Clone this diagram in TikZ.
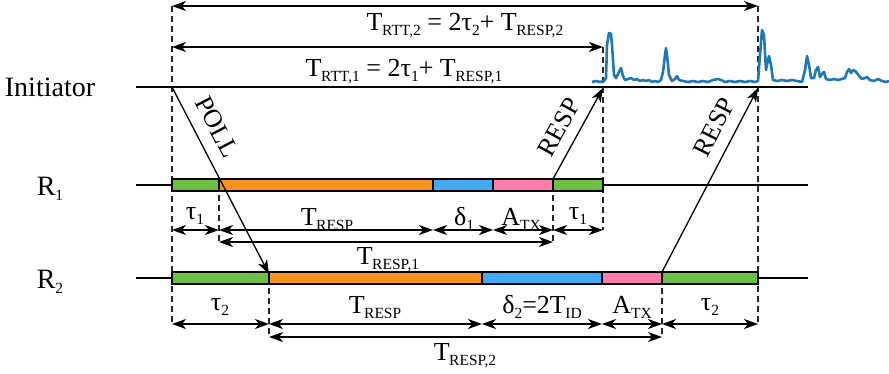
\documentclass[tikz,border=0pt]{standalone}
\usepackage{fontspec}
\setmainfont{Liberation Serif}
\usetikzlibrary{arrows.meta,calc}
\definecolor{cgreen}{RGB}{108,190,69}
\definecolor{corange}{RGB}{247,148,30}
\definecolor{cblue}{RGB}{66,170,240}
\definecolor{cpink}{RGB}{255,123,172}
\definecolor{csig}{RGB}{31,119,180}
\newcommand{\sbx}[1]{\raisebox{-5.5pt}{\fontsize{15.5}{16}\selectfont #1}}
\newcommand{\Tsb}[1]{T\kern-0.5pt\sbx{#1}}
\begin{document}
\begin{tikzpicture}[x=1pt,y=-1pt,
  lab/.style={font=\fontsize{26}{30}\selectfont, inner sep=0pt, anchor=base},
  biglab/.style={font=\fontsize{28}{32}\selectfont, inner sep=0pt, anchor=base},
  rlab/.style={font=\fontsize{26}{30}\selectfont, inner sep=0pt},
  dim/.style={{Stealth[length=14pt,width=10pt,inset=4pt]}-{Stealth[length=14pt,width=10pt,inset=4pt]}, line width=1.4pt},
  sig/.style={-{Stealth[length=14pt,width=10pt,inset=4pt]}, line width=1.3pt},
  dsh/.style={dash pattern=on 6pt off 4pt, line width=1.2pt, black!85},
  tline/.style={line width=2pt},
  seg/.style={line width=1.4pt}]
\useasboundingbox (0,0) rectangle (889,373);

% timelines
\coordinate (iL) at (136,87);  \coordinate (iR) at (808,87);
\coordinate (r1L) at (136,185); \coordinate (r1R) at (808,185);
\coordinate (r2L) at (136,278); \coordinate (r2R) at (808,278);

% R1 segment boundaries (on the line)
\coordinate (r1a) at (172,185); \coordinate (r1b) at (219,185);
\coordinate (r1c) at (433,185); \coordinate (r1d) at (493,185);
\coordinate (r1e) at (553,185); \coordinate (r1f) at (603,185);
% R2 segment boundaries
\coordinate (r2a) at (172,278); \coordinate (r2b) at (269,278);
\coordinate (r2c) at (482,278); \coordinate (r2d) at (602,278);
\coordinate (r2e) at (662,278); \coordinate (r2f) at (758,278);

% dimension-arrow ends
\coordinate (d1a) at (172,230); \coordinate (d1b) at (219,230);
\coordinate (d1c) at (433,230); \coordinate (d1d) at (493,230);
\coordinate (d1e) at (553,230); \coordinate (d1f) at (603,230);
\coordinate (e1b) at (219,242); \coordinate (e1e) at (553,242);
\coordinate (d2a) at (172,324); \coordinate (d2b) at (269,324);
\coordinate (d2c) at (482,324); \coordinate (d2d) at (602,324);
\coordinate (d2e) at (662,324); \coordinate (d2f) at (758,324);
\coordinate (e2b) at (269,337); \coordinate (e2e) at (662,337);
\coordinate (t2a) at (172,6);  \coordinate (t2b) at (758,6);
\coordinate (t1a) at (172,47); \coordinate (t1b) at (603,47);
\coordinate (iP) at (172,87); \coordinate (iQ) at (603,88); \coordinate (iS) at (758,88);

% dashed guides
\draw[dsh] (t2a) -- (d2a);
\draw[dsh] (t2b) -- (d2f);
\draw[dsh] (t1b) -- (d1f);
\draw[dsh] (r1b) -- (e1b);
\draw[dsh] (r1e) -- (e1e);
\draw[dsh] (r2b) -- (e2b);
\draw[dsh] (r2e) -- (e2e);

% timelines
\draw[tline] (iL) -- (iR);
\draw[tline] (r1L) -- (r1R);
\draw[tline] (r2L) -- (r2R);

% bars R1
\draw[seg, fill=cgreen]  ($(r1a)+(0,-6)$) rectangle ($(r1b)+(0,6)$);
\draw[seg, fill=corange] ($(r1b)+(0,-6)$) rectangle ($(r1c)+(0,6)$);
\draw[seg, fill=cblue]   ($(r1c)+(0,-6)$) rectangle ($(r1d)+(0,6)$);
\draw[seg, fill=cpink]   ($(r1d)+(0,-6)$) rectangle ($(r1e)+(0,6)$);
\draw[seg, fill=cgreen]  ($(r1e)+(0,-6)$) rectangle ($(r1f)+(0,6)$);
% bars R2
\draw[seg, fill=cgreen]  ($(r2a)+(0,-6)$) rectangle ($(r2b)+(0,6)$);
\draw[seg, fill=corange] ($(r2b)+(0,-6)$) rectangle ($(r2c)+(0,6)$);
\draw[seg, fill=cblue]   ($(r2c)+(0,-6)$) rectangle ($(r2d)+(0,6)$);
\draw[seg, fill=cpink]   ($(r2d)+(0,-6)$) rectangle ($(r2e)+(0,6)$);
\draw[seg, fill=cgreen]  ($(r2e)+(0,-6)$) rectangle ($(r2f)+(0,6)$);

% messages
\coordinate (pEnd) at (269,274);
\draw[sig] (iP) -- (pEnd);
\draw[sig] ($(r1e)+(0,-6)$) -- (iQ);
\draw[sig] ($(r2e)+(0,-6)$) -- (iS);
\node[rlab, rotate=-62.3] (lpoll) at (217,127) {POLL};
\node[rlab, rotate=61.2] (lresp1) at (559,127) {RESP};
\node[rlab, rotate=63.2] (lresp2) at (714,127) {RESP};

% dimension arrows
\draw[dim] (t2a) -- (t2b);
\draw[dim] (t1a) -- (t1b);
\draw[dim] (d1a) -- (d1b);
\draw[dim] (d1b) -- (d1c);
\draw[dim] (d1c) -- (d1d);
\draw[dim] (d1d) -- (d1e);
\draw[dim] (d1e) -- (d1f);
\draw[dim] (e1b) -- (e1e);
\draw[dim] (d2a) -- (d2b);
\draw[dim] (d2b) -- (d2c);
\draw[dim] (d2c) -- (d2d);
\draw[dim] (d2d) -- (d2e);
\draw[dim] (d2e) -- (d2f);
\draw[dim] (e2b) -- (e2e);

% labels
\node[biglab] (linit) at (50,96) {Initiator};
\node[biglab] (lr1) at (50,195) {R\sbx{1}};
\node[biglab] (lr2) at (50,288) {R\sbx{2}};
\node[lab] (lrtt2) at (465,30) {\Tsb{RTT,2} = 2τ\sbx{2}+ \Tsb{RESP,2}};
\node[lab] (lrtt1) at (404,76) {\Tsb{RTT,1} = 2τ\sbx{1}+ \Tsb{RESP,1}};

\node[lab] (lt1a) at (195,219) {τ\sbx{1}};
\node[lab] (ltr1) at (327,225) {\Tsb{RESP}};
\node[lab] (ld1) at (464,225) {δ\sbx{1}};
\node[lab] (lat1) at (521,225) {A\sbx{TX}};
\node[lab] (lt1b) at (578,219) {τ\sbx{1}};
\node[lab] (ltr11) at (388,264) {\Tsb{RESP,1}};

\node[lab] (lt2a) at (220,310) {τ\sbx{2}};
\node[lab] (ltr2) at (375,313) {\Tsb{RESP}};
\node[lab] (ld2) at (542,313) {δ\sbx{2}=2\Tsb{ID}};
\node[lab] (lat2) at (632,313) {A\sbx{TX}};
\node[lab] (lt2b) at (710,310) {τ\sbx{2}};
\node[lab] (ltr22) at (465,360) {\Tsb{RESP,2}};

% received signal
\draw[csig, line width=2.6pt, line join=round] plot coordinates {
(592,82)(596,81)(600,82)(604,81)(606,78)(607,45)(609,33)(611,34)(612,45)(614,75)(616,78)(619,72)(621,68)(623,76)(625,80)(628,79)(631,78)(634,80)(637,79)(640,81)(643,80)(646,81)(649,80)(652,82)(655,81)(658,82)(661,80)(663,72)(665,55)(666,48)(667,55)(669,75)(672,81)(675,79)(677,76)(679,80)(683,81)(688,82)(693,81)(698,82)(703,81)(708,82)(713,80)(718,79)(721,80)(725,82)(730,81)(735,82)(740,81)(745,82)(750,81)(755,82)(758,81)(760,55)(762,30)(764,35)(766,70)(768,60)(769,56)(771,65)(773,80)(777,81)(782,80)(787,81)(792,80)(797,81)(802,82)(805,70)(807,56)(809,65)(811,78)(814,78)(816,70)(818,67)(820,77)(822,74)(824,72)(826,79)(830,80)(834,79)(838,80)(842,79)(845,78)(847,72)(849,69)(851,73)(853,70)(855,71)(857,73)(859,76)(862,79)(865,78)(867,77)(870,80)(874,81)(878,79)(882,81)(886,82)(889,81)};
\end{tikzpicture}
\end{document}
